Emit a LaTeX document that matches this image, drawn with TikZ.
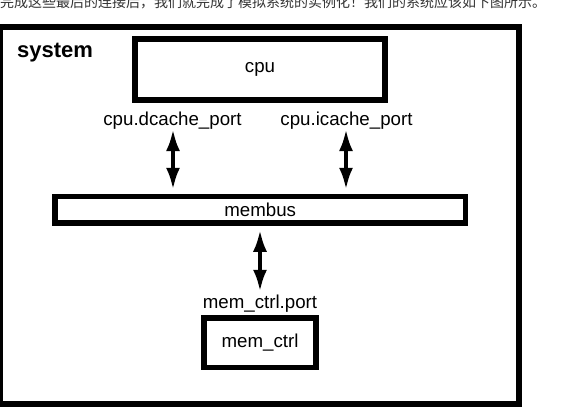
\documentclass[tikz,border=0pt]{standalone}
\usepackage{fontspec}
\setmainfont{Liberation Sans}
\newfontfamily\cjk{Noto Sans CJK SC}
\usetikzlibrary{arrows.meta,positioning}

\tikzset{
  block/.style={draw, line width=5.5pt, inner sep=0pt, font=\fontsize{18.7}{22}\selectfont},
  portlabel/.style={inner sep=0pt, anchor=base, font=\fontsize{18.7}{22}\selectfont},
  link/.style={{Latex[length=22pt,width=14pt]}-{Latex[length=22pt,width=14pt]}, line width=4pt},
}

\begin{document}
\begin{tikzpicture}[x=1pt,y=-1pt]
  \useasboundingbox (0,0) rectangle (583,418);
  \clip (0,0) rectangle (583,418);
  % caption line, cut by the top edge
  \node[anchor=base west, inner sep=0pt, text=black!80, font=\cjk\fontsize{14}{16}\selectfont] (caption) at (0,7.5)
    {完成这些最后的连接后，我们就完成了模拟系统的实例化！我们的系统应该如下图所示。};
  % boxes
  \node[block, line width=6pt, minimum width=519pt, minimum height=377pt] (system) at (259.5,215.5) {};
  \node[anchor=base west, inner sep=0pt, font=\bfseries\fontsize{22}{26}\selectfont] (systemname) at (17,57.7) {system};
  \node[block, minimum width=250pt, minimum height=61pt] (cpu) at (260,69.5) {cpu};
  \node[block, minimum width=410.5pt, minimum height=26.5pt] (membus) at (260.25,209.75) {membus};
  \node[block, minimum width=112pt, minimum height=49.5pt] (memctrl) at (260,342.75) {mem\_ctrl};
  % ports
  \node[portlabel] (dport) at (172.5,125) {cpu.dcache\_port};
  \node[portlabel] (iport) at (346.5,125) {cpu.icache\_port};
  \node[portlabel] (mport) at (260,308) {mem\_ctrl.port};
  % connections
  \draw[link, shorten >=4pt] ([xshift=0.5pt]dport.south) -- ([xshift=0.5pt]dport.south |- membus.north);
  \draw[link, shorten >=4pt] ([xshift=-0.5pt]iport.south) -- ([xshift=-0.5pt]iport.south |- membus.north);
  \draw[link, shorten <=4pt, shorten >=2.5pt] (membus.south -| mport) -- (mport.north);
\end{tikzpicture}
\end{document}
